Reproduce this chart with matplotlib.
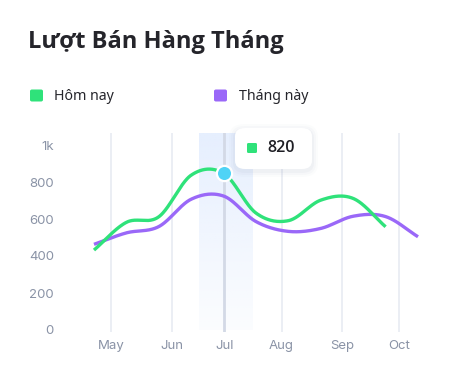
import numpy as np
import matplotlib
matplotlib.use("Agg")
import matplotlib.pyplot as plt
from matplotlib.patches import FancyBboxPatch
import matplotlib.transforms as mtransforms

# ---------------- data ----------------
title = "Lượt Bán Hàng Tháng"
series_names = ["Hôm nay", "Tháng này"]
green_values = [405, 555, 585, 810, 820, 605, 564, 675, 684, 531]
purple_values = [436, 498, 532, 680, 697, 559, 506, 522, 588, 586, 477]
month_labels = ["May", "Jun", "Jul", "Aug", "Sep", "Oct"]
month_positions = [0.52, 2.40, 4.02, 5.79, 7.65, 9.42]
y_ticks = [0, 200, 400, 600, 800, 1000]
y_tick_labels = ["0", "200", "400", "600", "800", "1k"]
highlight_index = 4
tooltip_value = "820"

GREEN = "#2fe27a"
PURPLE = "#9a68f8"
GRID = "#e8ebf2"
TICK = "#8a93a6"

W, H = 459, 381
fig = plt.figure(figsize=(W / 100, H / 100), dpi=100)
fig.patch.set_facecolor("white")

def fx(px):
    return px / W

def fy(py):
    return 1 - py / H

ax_left, ax_right, ax_top, ax_bottom = 60, 430, 133, 332
ax = fig.add_axes([fx(ax_left), fy(ax_bottom), (ax_right - ax_left) / W, (ax_bottom - ax_top) / H])
ax.set_facecolor("none")
for s in ax.spines.values():
    s.set_visible(False)

px_per_k = 32.4
x0_px = 94
xlim = ((ax_left - x0_px) / px_per_k, (ax_right - x0_px) / px_per_k)
zero_px = 325
px_per_unit = 0.185
ylim = ((zero_px - ax_bottom) / px_per_unit, (zero_px - ax_top) / px_per_unit)


def catmull_rom(ys, n=40):
    ys = np.asarray(ys, float)
    m = len(ys)
    tang = np.zeros(m)
    tang[1:-1] = (ys[2:] - ys[:-2]) / 2
    tang[0] = ys[1] - ys[0]
    tang[-1] = ys[-1] - ys[-2]
    xs_out, ys_out = [], []
    t = np.linspace(0, 1, n, endpoint=False)
    for i in range(m - 1):
        h00 = 2 * t**3 - 3 * t**2 + 1
        h10 = t**3 - 2 * t**2 + t
        h01 = -2 * t**3 + 3 * t**2
        h11 = t**3 - t**2
        yy = h00 * ys[i] + h10 * tang[i] + h01 * ys[i + 1] + h11 * tang[i + 1]
        xs_out.append(i + t)
        ys_out.append(yy)
    xs_out.append([m - 1])
    ys_out.append([ys[-1]])
    return np.concatenate(xs_out), np.concatenate(ys_out)

# highlight band with vertical gradient
band_x0 = (199 - x0_px) / px_per_k
band_x1 = (253 - x0_px) / px_per_k
grad = np.zeros((100, 1, 4))
grad[..., 0] = 230 / 255
grad[..., 1] = 239 / 255
grad[..., 2] = 254 / 255
grad[:, 0, 3] = np.linspace(1.0, 0.15, 100)
ax.imshow(grad, extent=[band_x0, band_x1, ylim[0] + 10, ylim[1]], origin="upper",
          aspect="auto", zorder=0, interpolation="bilinear")
ax.set_xlim(*xlim)
ax.set_ylim(*ylim)

# vertical gridlines
for i, p in enumerate(month_positions):
    if month_labels[i] == "Jul":
        ax.axvline(p, color="#d3d9e6", lw=2.0, zorder=1)
    else:
        ax.axvline(p, color=GRID, lw=1.2, zorder=1)

xx, yy = catmull_rom(purple_values)
ax.plot(xx, yy, color=PURPLE, lw=2.4, solid_capstyle="butt", zorder=3)
xx, yy = catmull_rom(green_values)
ax.plot(xx, yy, color=GREEN, lw=2.4, solid_capstyle="butt", zorder=4)

ax.plot([highlight_index], [green_values[highlight_index]], "o", ms=11,
        mfc="#4fd3f6", mec="white", mew=1.6, zorder=6)

ax.set_xticks(month_positions)
ax.set_xticklabels(month_labels)
ax.set_yticks(y_ticks)
ax.set_yticklabels(y_tick_labels)
ax.tick_params(axis="both", length=0, colors=TICK, labelsize=9.5)
ax.tick_params(axis="y", pad=4.5)
ax.tick_params(axis="x", pad=6)
for lab in ax.get_xticklabels() + ax.get_yticklabels():
    lab.set_fontfamily(["Inter", "DejaVu Sans"])
offset = mtransforms.ScaledTranslation(0, -5 / 100, fig.dpi_scale_trans)
for lab in ax.get_yticklabels():
    lab.set_transform(lab.get_transform() + offset)

# title
fig.text(fx(28), fy(48), title, fontsize=17, fontweight="bold",
         family=["Open Sans", "DejaVu Sans"], color="#25252b", va="baseline", ha="left")

# legend
def fig_box(x0, y0, x1, y1, color, r=2, **kw):
    p = FancyBboxPatch((fx(x0), fy(y1)), fx(x1 - x0), (y1 - y0) / H,
                       boxstyle=f"round,pad=0,rounding_size={r / W}",
                       transform=fig.transFigure, facecolor=color, edgecolor="none", **kw)
    fig.add_artist(p)
    return p

fig_box(30, 89.5, 43, 101.5, GREEN)
fig.text(fx(54.5), fy(96), series_names[0], fontsize=10.2,
         family=["Noto Sans", "DejaVu Sans"], color="#25252b", va="center", ha="left")
fig_box(214, 89.5, 227, 101.5, PURPLE)
fig.text(fx(239), fy(96), series_names[1], fontsize=10.2,
         family=["Noto Sans", "DejaVu Sans"], color="#25252b", va="center", ha="left")

# tooltip
for k, a in [(6, 0.025), (4, 0.035), (2, 0.05)]:
    fig_box(235 - k, 128 - k + 2, 312 + k, 169 + k + 2, "#7f8aa8", r=10 + k, alpha=a, zorder=7)
fig_box(235, 128, 312, 169, "white", r=10, zorder=8)
fig_box(247, 143, 257, 153, GREEN, r=1.5, zorder=9)
fig.text(fx(267.5), fy(148.5), tooltip_value, fontsize=11.5, fontweight="semibold",
         family=["Open Sans", "DejaVu Sans"], color="#1e1e24", va="center", ha="left", zorder=10)

fig.savefig("out.png", dpi=100, facecolor="white")
